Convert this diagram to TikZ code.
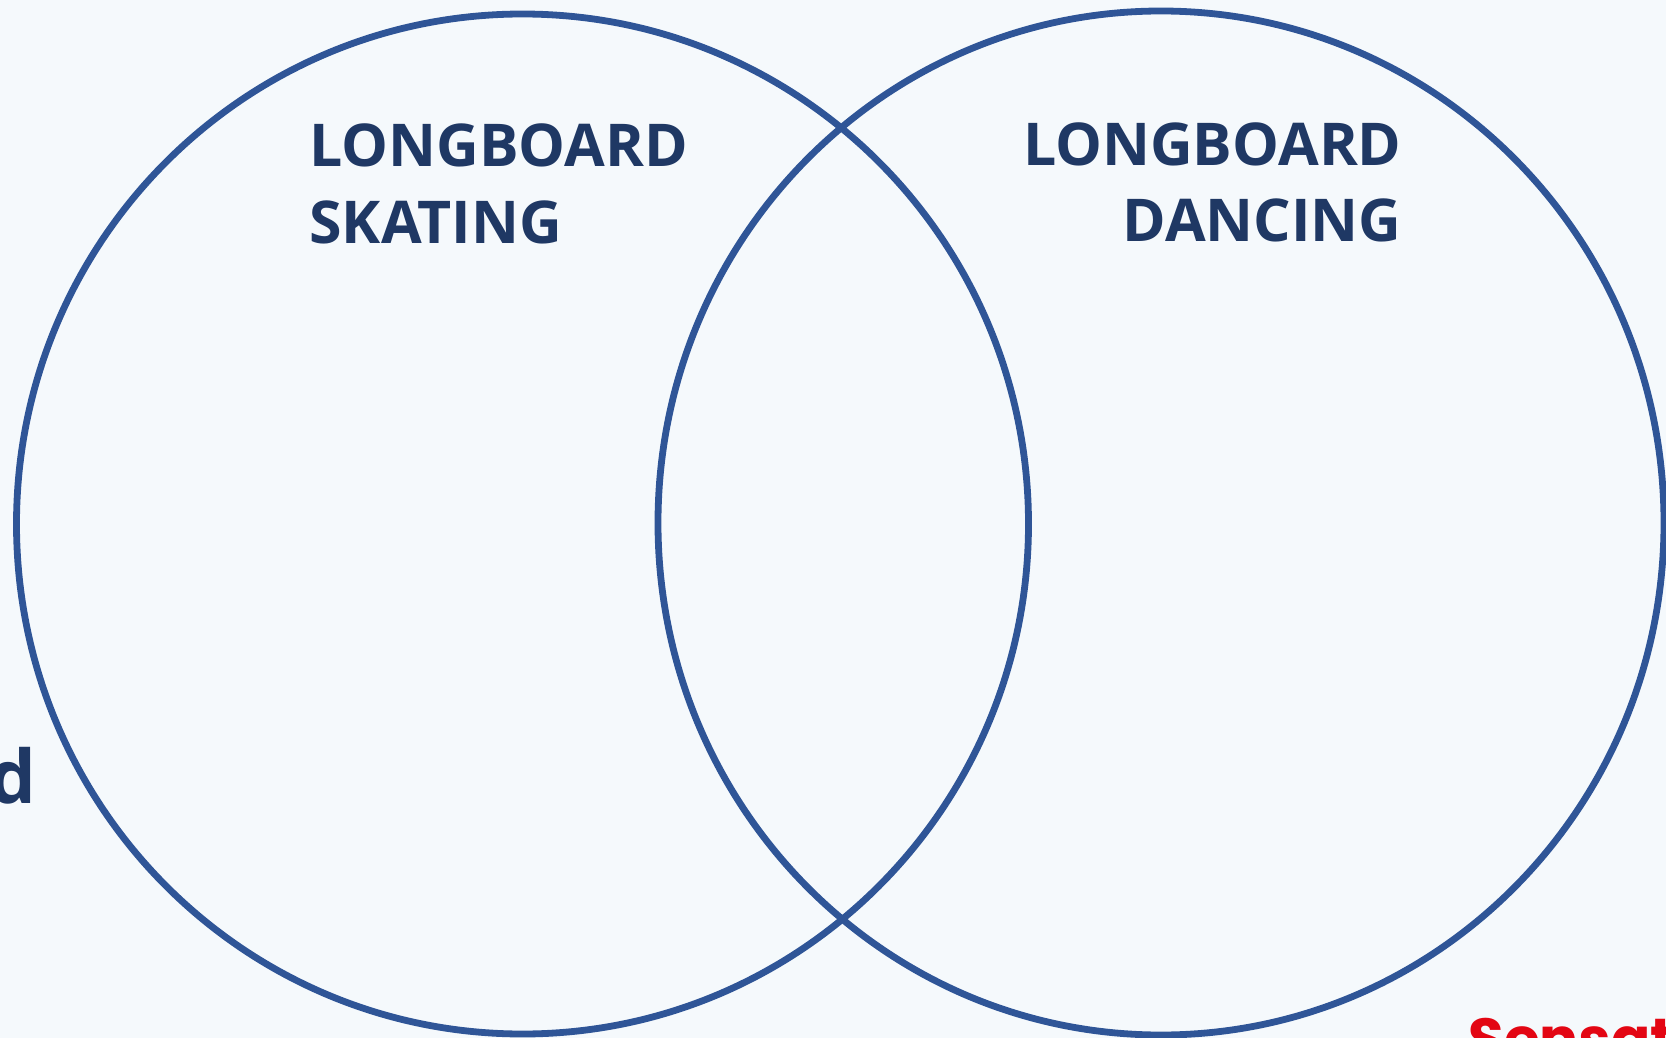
\documentclass[tikz,border=0pt]{standalone}
\usepackage{fontspec}
\setmainfont{Open Sans}
\newfontfamily\redfont{Poppins}
\definecolor{bgc}{HTML}{F5F9FC}
\definecolor{ringc}{HTML}{2F5597}
\definecolor{txtc}{HTML}{1F3864}
\definecolor{redc}{HTML}{E30613}
\begin{document}
\begin{tikzpicture}[x=0.5pt,y=-0.5pt,
  ring/.style={draw=ringc,line width=3.4pt},
  lbl/.style={inner sep=0pt,text=txtc,font=\fontsize{29.5}{36}\selectfont\bfseries}]
\useasboundingbox (0,0) rectangle (1666,1038);
\clip (0,0) rectangle (1666,1038);
\fill[bgc] (0,0) rectangle (1666,1038);
\draw[ring] (522.5,524) ellipse [x radius=506, y radius=510];
\draw[ring] (1161,523) ellipse [x radius=503, y radius=512];
\node[lbl,anchor=base west] (l1) at (309,167) {LONGBOARD};
\node[lbl,anchor=base west] (l2) at (309,243) {SKATING};
\node[lbl,anchor=base east] (r1) at (1402,165) {LONGBOARD};
\node[lbl,anchor=base east] (r2) at (1402,242) {DANCING};
\node[inner sep=0pt,text=txtc,font=\fontsize{37}{42}\selectfont\bfseries,anchor=base east] (dd) at (37,803) {d};
\node[inner sep=0pt,text=redc,font=\redfont\fontsize{29}{32}\selectfont\bfseries,anchor=north west] (rs) at (1468,1018) {Sensat};
\end{tikzpicture}
\end{document}
